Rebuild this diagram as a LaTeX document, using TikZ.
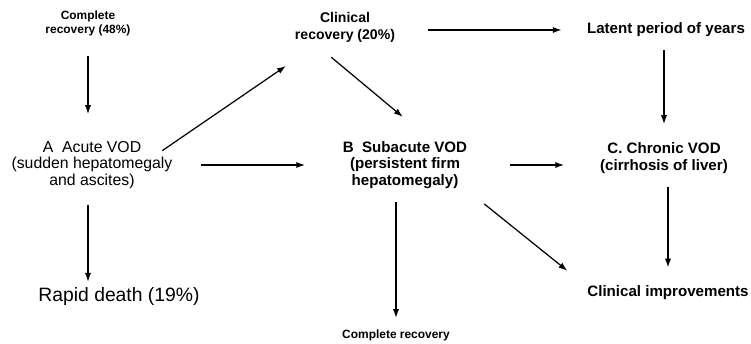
\documentclass[tikz,border=0pt]{standalone}
\usepackage{fontspec}
\setmainfont{Liberation Sans}
\usetikzlibrary{arrows.meta}

\begin{document}
\begin{tikzpicture}[x=0.02cm, y=-0.02cm,
	lbl/.style={align=center, font=\bfseries\fontsize{8.6}{9.6}\selectfont},
	sml/.style={align=center, font=\bfseries\fontsize{6.8}{8}\selectfont},
	reg/.style={align=center, font=\fontsize{9}{9.4}\selectfont},
	arr/.style={line width=0.7pt, -{Latex[length=5pt, width=3.5pt]}}]
   \useasboundingbox (0,0) rectangle (751,344);
   \node (cr) [sml] at (88,23) {Complete\\recovery (48\%)};
   \node (clin) [lbl, font=\bfseries\fontsize{8}{9.6}\selectfont] at (345,27) {Clinical\\recovery (20\%)};
   \node (lat) [lbl] at (666,30) {Latent period of years};
   \node (acute) [reg] at (92,165) {A\ \ Acute VOD\\(sudden hepatomegaly\\and ascites)};
   \node (sub) [lbl] at (405,165) {B\ \ Subacute VOD\\(persistent firm\\hepatomegaly)};
   \node (chron) [lbl] at (664,158) {C. Chronic VOD\\(cirrhosis of liver)};
   \node (death) [font=\fontsize{11}{13}\selectfont] at (119,297) {Rapid death (19\%)};
   \node (impr) [lbl] at (668,293) {Clinical improvements};
   \node (comp) [sml] at (396,335) {Complete recovery};
   \draw [arr, shorten <=8pt, shorten >=12pt] (cr.south) -- (cr.south |- acute.north);
   \draw [arr, shorten <=6pt] (cr |- acute.south) -- (cr |- death.north);
   \draw [arr, shorten <=13pt, shorten >=18pt] (acute.east) -- (acute.east -| sub.west);
   \draw [arr, shorten <=2pt, shorten >=2pt] ([xshift=-11pt, yshift=-10pt]acute.north east) -- ([yshift=-9pt]clin.south west);
   \draw [arr, shorten <=8pt, shorten >=16pt] ([xshift=-14pt]clin.south) -- ([xshift=11pt]sub.north);
   \draw [arr, shorten <=15pt, shorten >=11pt] (clin.east |- lat) -- (lat.west);
   \draw [arr, shorten <=4pt, shorten >=7pt] (lat.south -| chron) -- (chron.north);
   \draw [arr, shorten <=21pt, shorten >=17pt] (sub.east) -- (sub.east -| chron.west);
   \draw [arr, shorten <=8pt, shorten >=5pt] (sub.south east) -- ([xshift=-4pt, yshift=2pt]impr.north west);
   \draw [arr, shorten <=4pt, shorten >=3pt] (sub.south -| comp) -- (comp.north);
   \draw [arr, shorten <=4pt, shorten >=7pt] (chron.south -| impr) -- (impr.north);
\end{tikzpicture}
\end{document}
